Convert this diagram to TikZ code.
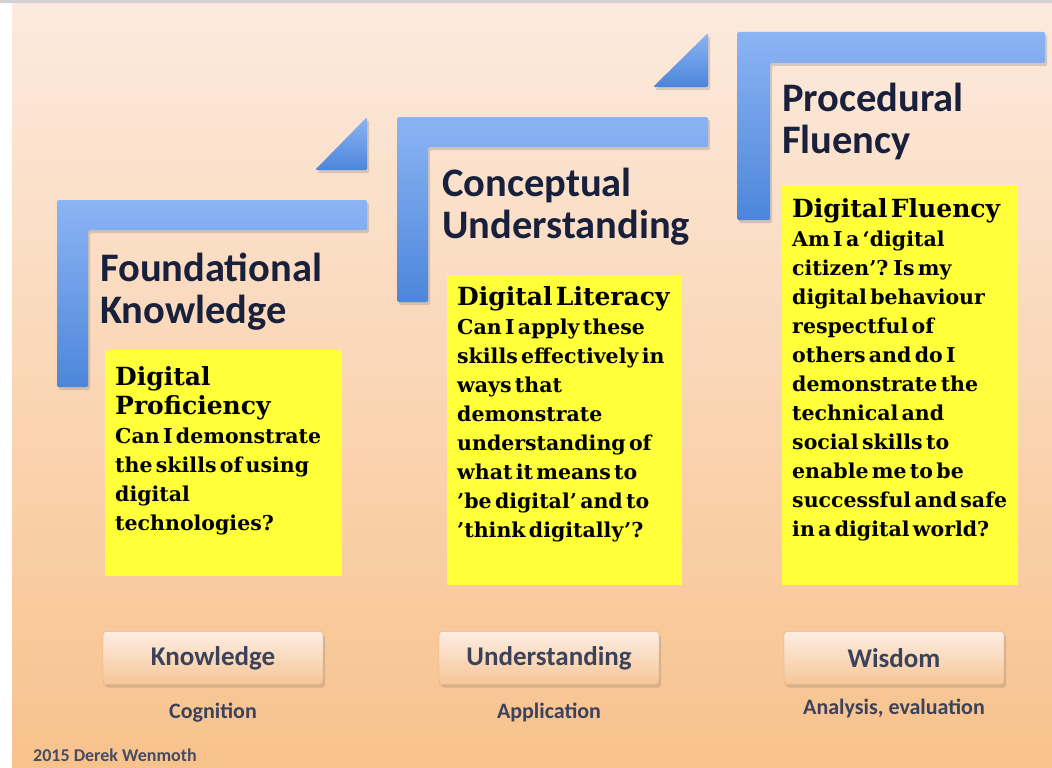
\documentclass[tikz,border=0pt]{standalone}
\usepackage{fontspec}
\setmainfont{Carlito}
\newfontfamily\slabfont{DejaVu Serif}
\usetikzlibrary{positioning,shadows}

\definecolor{bgtop}{RGB}{252,234,222}
\definecolor{bgmid}{RGB}{249,215,184}
\definecolor{bgbot}{RGB}{248,194,140}
\definecolor{barlight}{RGB}{140,180,244}
\definecolor{bardark}{RGB}{76,134,218}
\definecolor{navy}{RGB}{24,32,60}
\definecolor{note}{RGB}{255,255,58}
\definecolor{btntop}{RGB}{253,238,226}
\definecolor{btnbot}{RGB}{246,198,150}
\definecolor{btnline}{RGB}{224,166,110}

\newcommand\notehead{\fontsize{25}{29}\selectfont}
\newcommand\notebody{\fontsize{20.5}{29}\selectfont}

\tikzset{
  bracket/.style={top color=barlight, bottom color=bardark, rounded corners=1.5pt,
    drop shadow={opacity=0.3, shadow xshift=2pt, shadow yshift=-3pt}},
  heading/.style={anchor=north west, align=left, inner sep=0pt, text=navy,
    font=\fontsize{40.5}{42}\selectfont\bfseries},
  notebox/.style={fill=note, anchor=north west, inner sep=0pt},
  notetext/.style={text width=228pt, align=left, inner sep=0pt, text=black,
    font=\slabfont\bfseries},
  level/.style={draw=btnline, rounded corners=3pt, top color=btntop, bottom color=btnbot,
    minimum width=220pt, minimum height=53pt, text=navy!85,
    font=\fontsize{27}{30}\selectfont\bfseries,
    drop shadow={opacity=0.3, shadow xshift=2pt, shadow yshift=-3pt}},
  sublabel/.style={inner sep=0pt, text=navy!85, font=\fontsize{22}{24}\selectfont\bfseries}
}

\begin{document}
\begin{tikzpicture}[x=1pt,y=-1pt]
\useasboundingbox (0,0) rectangle (1052,768);
% backdrop
\fill[white] (0,0) rectangle (1052,768);
\shade[top color=bgtop, middle color=bgmid, bottom color=bgbot] (12,3) rectangle (1052,768);
\fill[black!18] (0,0) rectangle (1052,3);

% steps
\shade[bracket] (57,200) -- (367,200) -- (367,230) -- (88,230) -- (88,387) -- (57,387) -- cycle;
\shade[bracket] (315,170) -- (367,117) -- (367,170) -- cycle;
\shade[bracket] (397,117) -- (708,117) -- (708,147) -- (428,147) -- (428,302) -- (397,302) -- cycle;
\shade[bracket] (653,87) -- (708,33) -- (708,87) -- cycle;
\shade[bracket] (737,32) -- (1045,32) -- (1045,63) -- (770,63) -- (770,220) -- (737,220) -- cycle;

% headings
\node[heading] (fk) at (100,253) {Foundational\\Knowledge};
\node[heading] (cu) at (442,168) {Conceptual\\Understanding};
\node[heading] (pf) at (782,83) {Procedural\\Fluency};

% notes
\node[notebox, minimum width=237pt, minimum height=226pt] (dpbox) at (105,350) {};
\node[notetext, below right=16pt and 10pt of dpbox.north west] (dp)
  {\notehead Digital\\Proficiency\par
   \notebody Can I demonstrate\\the skills of using\\digital\\technologies?\par};

\node[notebox, minimum width=235pt, minimum height=310pt] (dlbox) at (447,275) {};
\node[notetext, below right=11pt and 10pt of dlbox.north west] (dl)
  {\notehead Digital Literacy\par
   \notebody Can I apply these\\skills effectively in\\ways that\\demonstrate\\understanding of\\what it means to\\’be digital’ and to\\’think digitally’?\par};

\node[notebox, minimum width=236pt, minimum height=400pt] (dfbox) at (782,185) {};
\node[notetext, below right=13pt and 10pt of dfbox.north west] (df)
  {\notehead Digital Fluency\par
   \notebody Am I a ‘digital\\citizen’? Is my\\digital behaviour\\respectful of\\others and do I\\demonstrate the\\technical and\\social skills to\\enable me to be\\successful and safe\\in a digital world?\par};

% levels
\node[level] (know) at (213,658) {Knowledge};
\node[level] (under) at (549,658) {Understanding};
\node[level] (wis) at (894,658) {Wisdom};
\node[sublabel, below=18pt of know] (cog) {Cognition};
\node[sublabel, below=18pt of under] (app) {Application};
\node[sublabel, below=14pt of wis] (ana) {Analysis, evaluation};

\node[anchor=west, inner sep=0pt, text=navy!80, font=\fontsize{18}{20}\selectfont\bfseries] (credit) at (33,755) {2015 Derek Wenmoth};
\end{tikzpicture}
\end{document}
